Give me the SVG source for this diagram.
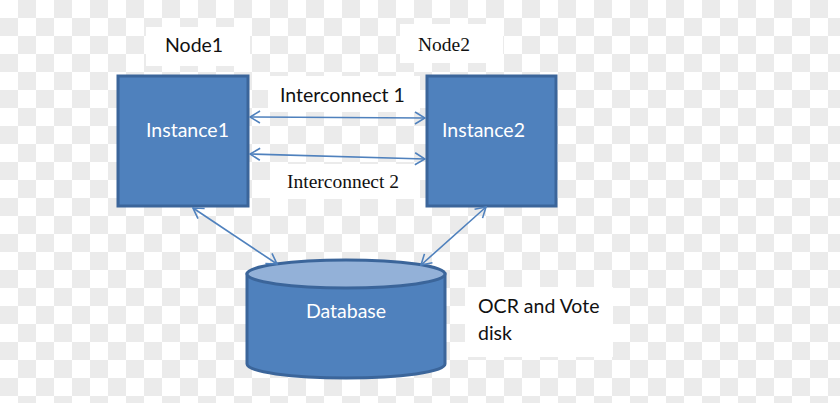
<svg xmlns="http://www.w3.org/2000/svg" width="840" height="403" viewBox="0 0 840 403">
<defs>
<pattern id="checker" x="0" y="0" width="36" height="36" patternUnits="userSpaceOnUse">
<rect width="36" height="36" fill="#ffffff"/>
<rect x="18" y="0" width="18" height="18" fill="#ebebeb"/>
<rect x="0" y="18" width="18" height="18" fill="#ebebeb"/>
</pattern>
<marker id="arr" viewBox="0 0 12 14" refX="11" refY="7" markerWidth="12" markerHeight="14" markerUnits="userSpaceOnUse" orient="auto-start-reverse">
<path d="M1,1 L11,7 L1,13" fill="none" stroke="#4f81bd" stroke-width="1.6"/>
</marker>
<style>
.box{fill:#4f81bd;stroke:#3b659a;stroke-width:3}
.lbl{fill:#ffffff}
.wt{fill:#ffffff}
.sans{font-family:Lato,"Liberation Sans",sans-serif;font-size:19.5px}
.serif{font-family:"Liberation Serif",serif;font-size:19.5px}
.dark{fill:#111111}
.conn{stroke:#4f81bd;stroke-width:1.6;fill:none;marker-start:url(#arr);marker-end:url(#arr)}
</style>
</defs>
<rect width="840" height="403" fill="url(#checker)"/>
<g id="label-boxes">
<rect class="wt" x="146" y="27" width="104" height="39"/>
<rect class="wt" x="400" y="24" width="103" height="39"/>
<rect class="wt" x="268" y="76" width="152" height="36"/>
<rect class="wt" x="270" y="164" width="150" height="35"/>
<rect class="wt" x="465" y="287" width="148" height="70"/>
</g>
<g id="node1-label"><text class="sans dark" x="165" y="52">Node1</text></g>
<g id="node2-label"><text class="serif dark" x="418" y="51">Node2</text></g>
<g id="instance1">
<rect class="box" x="118" y="76" width="130" height="130"/>
<text class="sans lbl" x="146" y="137">Instance1</text>
</g>
<g id="instance2">
<rect class="box" x="427" y="76" width="129" height="130"/>
<text class="sans lbl" x="442" y="137">Instance2</text>
</g>
<g id="database">
<path d="M247,274 L247,364 A99,14 0 0 0 445,364 L445,274 Z" fill="#4f81bd" stroke="#3b659a" stroke-width="3"/>
<ellipse cx="346" cy="274" rx="99" ry="14" fill="#93b1d8" stroke="#3b659a" stroke-width="3"/>
<text class="sans lbl" x="346" y="318" text-anchor="middle">Database</text>
</g>
<g id="ocr-label">
<text class="sans dark" x="478" y="313">OCR and Vote</text>
<text class="sans dark" x="478" y="340">disk</text>
</g>
<g id="interconnect1-label"><text class="sans dark" x="280" y="102">Interconnect 1</text></g>
<g id="interconnect2-label"><text class="serif dark" x="287" y="188">Interconnect 2</text></g>
<g id="connectors">
<line class="conn" x1="250" y1="117" x2="425" y2="118"/>
<line class="conn" x1="250" y1="154" x2="425" y2="159"/>
<line class="conn" x1="193" y1="208" x2="277" y2="264"/>
<line class="conn" x1="486" y1="207" x2="421" y2="265"/>
</g>
</svg>
